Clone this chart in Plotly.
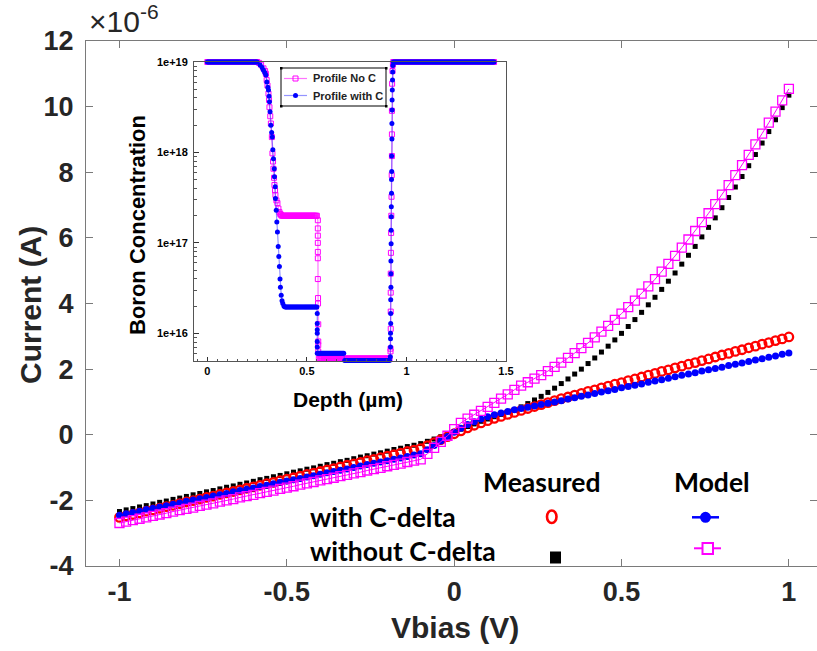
import numpy as np
import plotly.graph_objects as go

# ---------------- main I-V data (current in units of 1e-6 A) ----------------
vbias = np.round(np.linspace(-1.0, 1.0, 101), 2)

i_meas_with_c = [
    -2.52, -2.47, -2.43, -2.38, -2.33, -2.29, -2.24, -2.19, -2.15, -2.10,
    -2.05, -2.01, -1.96, -1.91, -1.87, -1.82, -1.77, -1.73, -1.68, -1.63,
    -1.59, -1.54, -1.49, -1.45, -1.40, -1.35, -1.31, -1.26, -1.21, -1.17,
    -1.12, -1.07, -1.03, -0.98, -0.93, -0.89, -0.84, -0.79, -0.75, -0.70,
    -0.65, -0.61, -0.56, -0.51, -0.47, -0.42, -0.33, -0.24, -0.15, -0.06,
    0.03, 0.12, 0.21, 0.29, 0.36, 0.43, 0.50, 0.56, 0.62, 0.68,
    0.74, 0.80, 0.86, 0.92, 0.98, 1.04, 1.10, 1.15, 1.21, 1.26,
    1.32, 1.37, 1.43, 1.48, 1.54, 1.59, 1.65, 1.70, 1.76, 1.82,
    1.87, 1.93, 1.98, 2.04, 2.09, 2.15, 2.20, 2.26, 2.31, 2.37,
    2.43, 2.48, 2.54, 2.59, 2.65, 2.70, 2.76, 2.81, 2.87, 2.92,
    2.98,
]

i_meas_no_c = [
    -2.34, -2.29, -2.25, -2.20, -2.16, -2.11, -2.06, -2.02, -1.97, -1.93,
    -1.88, -1.83, -1.79, -1.74, -1.70, -1.65, -1.60, -1.56, -1.51, -1.47,
    -1.42, -1.37, -1.33, -1.28, -1.24, -1.19, -1.14, -1.10, -1.05, -1.01,
    -0.96, -0.91, -0.87, -0.82, -0.78, -0.73, -0.68, -0.64, -0.59, -0.55,
    -0.50, -0.45, -0.41, -0.36, -0.32, -0.27, -0.20, -0.13, -0.06, 0.01,
    0.08, 0.17, 0.25, 0.33, 0.41, 0.48, 0.55, 0.62, 0.70, 0.77,
    0.85, 0.95, 1.06, 1.17, 1.29, 1.42, 1.56, 1.70, 1.85, 2.00,
    2.17, 2.34, 2.52, 2.70, 2.89, 3.09, 3.30, 3.51, 3.73, 3.96,
    4.19, 4.43, 4.68, 4.93, 5.20, 5.47, 5.74, 6.03, 6.32, 6.61,
    6.92, 7.23, 7.55, 7.87, 8.20, 8.54, 8.89, 9.24, 9.60, 9.97,
    10.35,
]

i_model_with_c = [
    -2.45, -2.41, -2.37, -2.33, -2.28, -2.24, -2.20, -2.16, -2.12, -2.08,
    -2.03, -1.99, -1.95, -1.91, -1.87, -1.83, -1.79, -1.74, -1.70, -1.66,
    -1.62, -1.58, -1.54, -1.49, -1.45, -1.41, -1.37, -1.33, -1.29, -1.25,
    -1.20, -1.16, -1.12, -1.08, -1.04, -1.00, -0.95, -0.91, -0.87, -0.83,
    -0.79, -0.75, -0.71, -0.66, -0.62, -0.58, -0.46, -0.33, -0.19, -0.05,
    0.08, 0.20, 0.31, 0.40, 0.48, 0.55, 0.61, 0.66, 0.71, 0.76,
    0.80, 0.84, 0.88, 0.92, 0.96, 1.00, 1.04, 1.09, 1.13, 1.17,
    1.21, 1.26, 1.30, 1.34, 1.38, 1.43, 1.47, 1.51, 1.55, 1.60,
    1.64, 1.68, 1.72, 1.77, 1.81, 1.85, 1.89, 1.94, 1.98, 2.02,
    2.06, 2.11, 2.15, 2.19, 2.23, 2.28, 2.32, 2.36, 2.40, 2.45,
    2.49,
]

i_model_no_c = [
    -2.69, -2.65, -2.60, -2.56, -2.52, -2.47, -2.43, -2.39, -2.34, -2.30,
    -2.26, -2.22, -2.17, -2.13, -2.09, -2.04, -2.00, -1.96, -1.91, -1.87,
    -1.83, -1.78, -1.74, -1.70, -1.65, -1.61, -1.57, -1.52, -1.48, -1.44,
    -1.39, -1.35, -1.31, -1.26, -1.22, -1.18, -1.14, -1.09, -1.05, -1.01,
    -0.96, -0.92, -0.88, -0.83, -0.79, -0.75, -0.58, -0.40, -0.22, -0.03,
    0.17, 0.36, 0.49, 0.61, 0.73, 0.85, 0.97, 1.10, 1.23, 1.37,
    1.50, 1.60, 1.71, 1.82, 1.94, 2.07, 2.20, 2.34, 2.49, 2.64,
    2.80, 2.97, 3.14, 3.32, 3.50, 3.69, 3.89, 4.09, 4.30, 4.52,
    4.74, 4.97, 5.21, 5.45, 5.70, 5.95, 6.21, 6.48, 6.75, 7.03,
    7.32, 7.61, 7.91, 8.22, 8.53, 8.85, 9.18, 9.51, 9.85, 10.19,
    10.54,
]

y_ticks = [-4, -2, 0, 2, 4, 6, 8, 10, 12]
x_ticks = [-1, -0.5, 0, 0.5, 1]
x_tick_text = ["-1", "-0.5", "0", "0.5", "1"]

# ---------------- inset: boron depth profiles (log10 of cm^-3) ----------------
# plateaus: (start depth, end depth, log10 level)
withc_plateaus = [(0.0, 0.25, 19.0), (0.395, 0.55, 16.29), (0.555, 0.685, 15.78),
                  (0.69, 0.915, 15.70), (0.94, 1.44, 19.0)]
withc_steps_depth = [
    0.265, 0.275, 0.282, 0.289, 0.294, 0.299, 0.304, 0.307, 0.310, 0.312,
    0.315, 0.319, 0.323, 0.326, 0.329, 0.332, 0.336, 0.337, 0.341, 0.342,
    0.346, 0.349, 0.352, 0.356, 0.359, 0.362, 0.365, 0.367, 0.371, 0.375,
    0.379, 0.385, 0.391,
    0.552, 0.552, 0.552, 0.552, 0.552, 0.552, 0.552,
    0.919, 0.920, 0.920, 0.920, 0.921, 0.921, 0.921, 0.922, 0.922, 0.922,
    0.923, 0.923, 0.924, 0.924, 0.925, 0.925, 0.926, 0.926, 0.927, 0.927,
    0.928, 0.928, 0.929, 0.930, 0.931, 0.932, 0.934,
]
withc_steps_log = [
    18.967, 18.94, 18.91, 18.88, 18.856, 18.78, 18.72, 18.69, 18.62, 18.56,
    18.45, 18.30, 18.22, 18.17, 18.03, 17.93, 17.82, 17.73, 17.62, 17.49,
    17.36, 17.23, 17.12, 16.96, 16.85, 16.74, 16.60, 16.51, 16.42, 16.36,
    16.33, 16.30, 16.29,
    16.22, 16.11, 16.04, 16.00, 15.91, 15.85, 15.78,
    15.74, 15.85, 15.94, 16.00, 16.11, 16.22, 16.37, 16.51, 16.66, 16.80,
    16.99, 17.14, 17.29, 17.40, 17.55, 17.70, 17.79, 17.96, 18.15, 18.32,
    18.47, 18.58, 18.69, 18.80, 18.89, 18.96, 19.0,
]

noc_plateaus = [(0.0, 0.25, 19.0), (0.38, 0.55, 17.30), (0.56, 0.915, 15.72),
                (0.94, 1.44, 19.0)]
noc_steps_depth = [
    0.260, 0.270, 0.282, 0.290, 0.294, 0.298, 0.302, 0.307, 0.310, 0.312,
    0.316, 0.319, 0.324, 0.327, 0.330, 0.332, 0.335, 0.337, 0.340, 0.342,
    0.347, 0.352, 0.357, 0.362, 0.366, 0.370, 0.374,
    0.555, 0.555, 0.555, 0.555, 0.555, 0.555, 0.555, 0.556, 0.556, 0.557,
    0.557, 0.557, 0.557,
    0.920, 0.920, 0.921, 0.921, 0.921, 0.921, 0.922, 0.923, 0.924, 0.925,
    0.926, 0.927, 0.927, 0.927, 0.928, 0.930, 0.932, 0.934,
]
noc_steps_log = [
    18.99, 18.97, 18.93, 18.90, 18.87, 18.80, 18.74, 18.65, 18.58, 18.50,
    18.40, 18.32, 18.17, 17.99, 17.90, 17.82, 17.72, 17.64, 17.58, 17.53,
    17.47, 17.44, 17.38, 17.34, 17.32, 17.31, 17.30,
    17.25, 17.16, 17.08, 17.00, 16.90, 16.83, 16.60, 16.39, 16.33, 16.10,
    15.91, 15.87, 15.80,
    15.80, 15.83, 16.05, 16.24, 16.45, 16.66, 16.89, 17.11, 17.30, 17.51,
    17.75, 17.96, 18.20, 18.46, 18.76, 18.90, 18.97, 19.0,
]

MESH_STEP = 0.005  # simulation mesh spacing on the flat regions


def build_profile(plateaus, step_depth, step_log):
    pts = []
    for a, b, lv in plateaus:
        for d in np.arange(a, b + 1e-9, MESH_STEP):
            pts.append((d, lv))
    pts += list(zip(step_depth, step_log))
    pts.sort(key=lambda p: p[0])
    d = np.array([p[0] for p in pts])
    c = 10.0 ** np.array([p[1] for p in pts])
    return d, c


depth_noc, conc_noc = build_profile(noc_plateaus, noc_steps_depth, noc_steps_log)
depth_wc, conc_wc = build_profile(withc_plateaus, withc_steps_depth, withc_steps_log)

# ---------------- layout geometry ----------------
W, H = 817, 651
L, R, T, B = 86, 817, 41, 566


def px(x):
    return (x - L) / (R - L)


def py(y):
    return (B - y) / (B - T)


FONT = "Liberation Sans, Arial, sans-serif"
LEG_FONT = "Lato, Open Sans, sans-serif"
TXT = "#262626"
AX = "#7a7a7a"

RED = "#ff0000"
BLUE = "#0000ff"
MAG = "#ff00ff"
MAG_LINE = "rgba(255,0,255,0.55)"
BLUE_LINE = "rgba(60,60,255,0.55)"

fig = go.Figure()

# main curves
fig.add_trace(go.Scatter(
    x=vbias, y=i_meas_no_c, mode="markers", showlegend=False,
    marker=dict(symbol="square", size=5, color="black"),
))
fig.add_trace(go.Scatter(
    x=vbias, y=i_meas_with_c, mode="markers", showlegend=False,
    marker=dict(symbol="circle-open", size=8.5, color=RED, line=dict(width=2.3, color=RED)),
))
fig.add_trace(go.Scatter(
    x=vbias, y=i_model_with_c, mode="lines+markers", showlegend=False,
    line=dict(color=BLUE, width=1),
    marker=dict(symbol="circle", size=7, color=BLUE),
))
fig.add_trace(go.Scatter(
    x=vbias, y=i_model_no_c, mode="lines+markers", showlegend=False,
    line=dict(color=MAG, width=1),
    marker=dict(symbol="square-open", size=9, color=MAG, line=dict(width=1.3, color=MAG)),
))

# inset profiles
fig.add_trace(go.Scatter(
    x=depth_noc, y=conc_noc, mode="lines+markers", showlegend=False,
    xaxis="x2", yaxis="y2", cliponaxis=False,
    line=dict(color=MAG_LINE, width=1.2),
    marker=dict(symbol="square-open", size=5, color=MAG, line=dict(width=1, color=MAG)),
))
fig.add_trace(go.Scatter(
    x=depth_wc, y=conc_wc, mode="lines+markers", showlegend=False,
    xaxis="x2", yaxis="y2", cliponaxis=False,
    line=dict(color=BLUE_LINE, width=1.2),
    marker=dict(symbol="circle", size=5, color=BLUE),
))

minor_log = [k * 10.0 ** e for e in (15, 16, 17, 18) for k in range(2, 10)
             if 10 ** 15.69 < k * 10.0 ** e < 1e19]

fig.update_layout(
    width=W, height=H,
    margin=dict(l=L, r=W - R, t=T, b=H - B, pad=0),
    paper_bgcolor="white", plot_bgcolor="white",
    showlegend=False,
    xaxis=dict(
        range=[-1.1, 1.084], tickmode="array", tickvals=x_ticks, ticktext=x_tick_text,
        showgrid=False, zeroline=False, showline=True, linecolor=AX, linewidth=1,
        mirror="ticks", ticks="inside", ticklen=7, tickcolor=AX, automargin=False,
        tickfont=dict(family=FONT, size=27, color=TXT, weight="bold"),
        ticklabelstandoff=2,
    ),
    yaxis=dict(
        range=[-4, 12], tickmode="array", tickvals=y_ticks,
        ticktext=[str(v) if v >= 0 else "-" + str(-v) for v in y_ticks],
        showgrid=False, zeroline=False, showline=True, linecolor=AX, linewidth=1,
        mirror="ticks", ticks="inside", ticklen=7, tickcolor=AX, automargin=False,
        tickfont=dict(family=FONT, size=27, color=TXT, weight="bold"),
        ticklabelstandoff=6,
    ),
    xaxis2=dict(
        domain=[px(194), px(506)], anchor="y2", range=[-0.067, 1.5],
        tickmode="array", tickvals=[0, 0.5, 1, 1.5], ticktext=["0", "0.5", "1", "1.5"],
        showgrid=False, zeroline=False, showline=True, linecolor="#555555", linewidth=1,
        mirror=True, ticks="inside", ticklen=4, tickcolor="#333333", automargin=False,
        minor=dict(ticks="inside", ticklen=2.5, tickcolor="#555555", dtick=0.05, showgrid=False),
        tickfont=dict(family=FONT, size=11, color="black", weight="bold"),
    ),
    yaxis2=dict(
        domain=[py(361), py(62)], anchor="x2", type="log", range=[15.694, 19.0],
        tickmode="array", tickvals=[1e16, 1e17, 1e18, 1e19],
        ticktext=["1e+16", "1e+17", "1e+18", "1e+19"],
        showgrid=False, zeroline=False, showline=True, linecolor="#555555", linewidth=1,
        mirror=True, ticks="inside", ticklen=5, tickcolor="#333333", automargin=False,
        minor=dict(ticks="inside", ticklen=3, tickcolor="#555555",
                   tickmode="array", tickvals=minor_log, showgrid=False),
        tickfont=dict(family=FONT, size=11, color="black", weight="bold"),
        ticklabelstandoff=3,
    ),
)


def label(x, y, text, size, family=FONT, xanchor="center", yanchor="middle",
          angle=0, color="black", weight="bold"):
    return dict(x=px(x), y=py(y), xref="paper", yref="paper", text=text,
                xanchor=xanchor, yanchor=yanchor, textangle=angle, showarrow=False,
                font=dict(family=family, size=size, color=color, weight=weight))


annotations = [
    # main axis titles and exponent
    label(30, 305, "Current (A)", 30, angle=-90, color=TXT),
    label(455, 627, "Vbias (V)", 30, color=TXT),
    label(87, 40, "×10<sup>-6</sup>", 30, xanchor="left", yanchor="bottom",
          color=TXT, weight="normal"),
    # inset axis titles
    label(137, 225, "Boron Concentration", 22, angle=-90),
    label(348, 399, "Depth (µm)", 21),
    # inset key
    label(311, 78.5, "Profile No C", 11, xanchor="left", color="#222222"),
    label(311, 95.5, "Profile with C", 11, xanchor="left", color="#222222"),
    # main key table
    label(542, 482, "Measured", 26.5, family=LEG_FONT),
    label(712, 482, "Model", 26.5, family=LEG_FONT),
    label(308, 517, "with C-delta", 26.5, family=LEG_FONT, xanchor="left"),
    label(308, 551, "without C-delta", 26.5, family=LEG_FONT, xanchor="left"),
]
fig.update_layout(annotations=annotations)


def rect(x0, y0, x1, y1, **kw):
    return dict(type="rect", xref="paper", yref="paper",
                x0=px(x0), x1=px(x1), y0=py(y1), y1=py(y0), **kw)


def ellipse(x0, y0, x1, y1, **kw):
    return dict(type="circle", xref="paper", yref="paper",
                x0=px(x0), x1=px(x1), y0=py(y1), y1=py(y0), **kw)


def hline(x0, x1, y, **kw):
    return dict(type="line", xref="paper", yref="paper",
                x0=px(x0), x1=px(x1), y0=py(y), y1=py(y), **kw)


shapes = [
    # inset key box with its corner handles
    rect(281, 68, 386, 106, line=dict(color="black", width=1), fillcolor="white"),
    rect(280, 67, 282.5, 69.5, line=dict(width=0), fillcolor="black"),
    rect(385, 67, 387.5, 69.5, line=dict(width=0), fillcolor="black"),
    rect(280, 105, 282.5, 107.5, line=dict(width=0), fillcolor="black"),
    rect(385, 105, 387.5, 107.5, line=dict(width=0), fillcolor="black"),
    hline(284, 307, 78.5, line=dict(color=MAG_LINE, width=1.2)),
    rect(293, 76, 298, 81, line=dict(color=MAG, width=1), fillcolor="rgba(0,0,0,0)"),
    hline(284, 307, 95.5, line=dict(color=BLUE_LINE, width=1.2)),
    ellipse(293, 93, 298, 98, line=dict(width=0), fillcolor=BLUE),
    # main key table symbols
    ellipse(547, 510.5, 556.5, 523, line=dict(color=RED, width=2.6)),
    rect(550, 551.5, 561, 563.5, line=dict(width=0), fillcolor="black"),
    hline(692, 719, 517.3, line=dict(color=BLUE, width=2.5)),
    ellipse(700, 511.8, 711, 522.8, line=dict(width=0), fillcolor=BLUE),
    hline(694, 721, 548.3, line=dict(color=MAG, width=2)),
    rect(702.5, 543, 713, 554, line=dict(color=MAG, width=2), fillcolor="white"),
]
fig.update_layout(shapes=shapes)

fig.write_html("out.html")
